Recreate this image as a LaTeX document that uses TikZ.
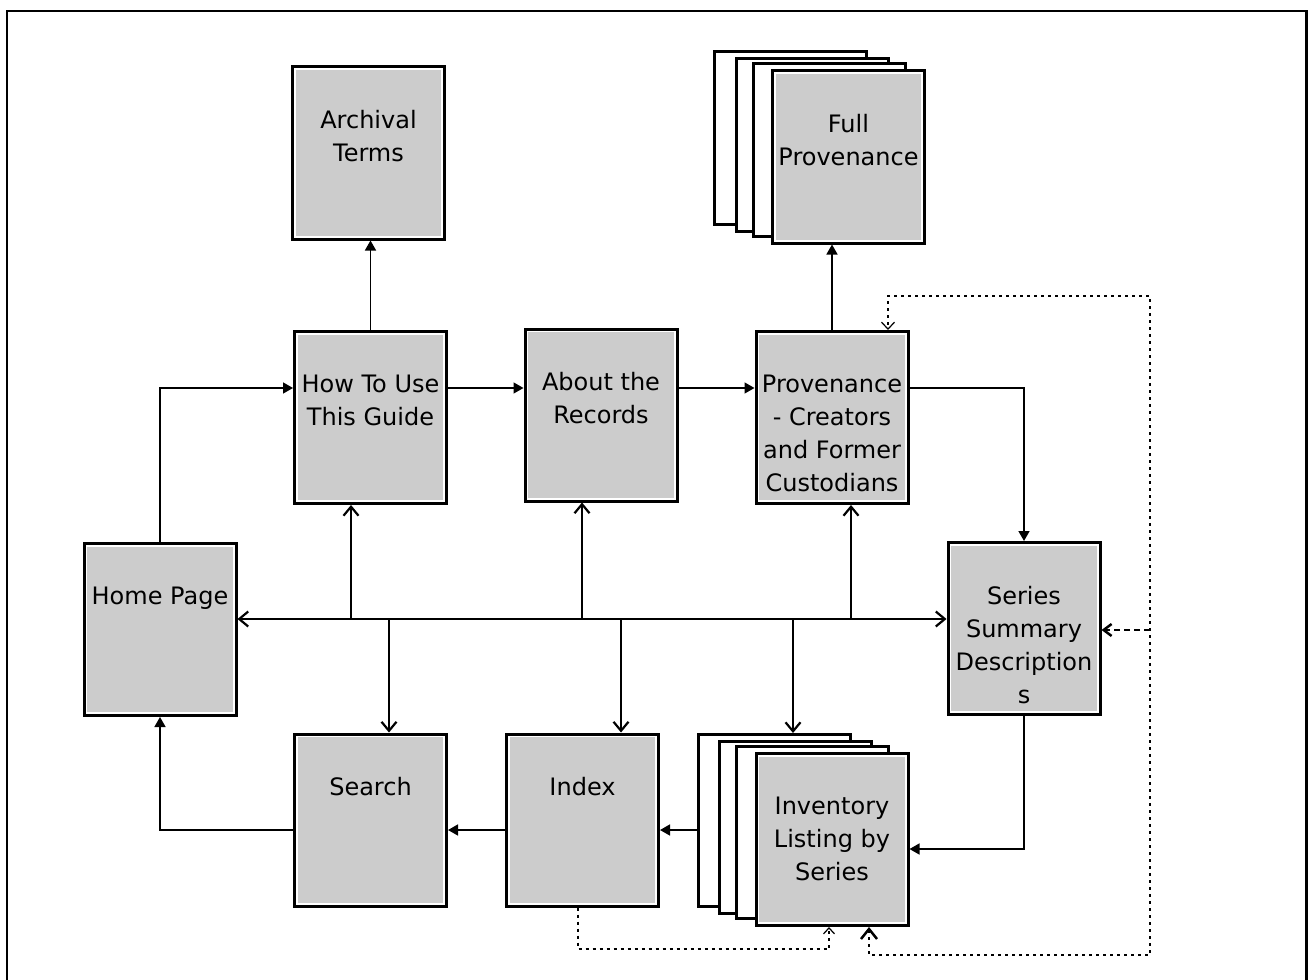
\documentclass[tikz,border=0pt]{standalone}
\usepackage{fontspec}
\setmainfont{DejaVu Sans}
\usetikzlibrary{arrows.meta,calc}
\definecolor{boxgray}{HTML}{CCCCCC}
\tikzset{
  pg/.style={rectangle, draw=black, fill=boxgray, line width=3pt,
    minimum width=152pt, minimum height=172pt, inner sep=0pt,
    path picture={\draw[white,line width=1.6pt]
      ([shift={(2.3pt,2.3pt)}]path picture bounding box.south west) rectangle
      ([shift={(-2.3pt,-2.3pt)}]path picture bounding box.north east);}},
  bk/.style={rectangle, draw=black, fill=white, line width=3pt,
    minimum width=152pt, minimum height=172pt, inner sep=0pt},
  lbl/.style={anchor=north, align=center, inner sep=0pt,
    font=\fontsize{24}{33}\selectfont},
  fa/.style={line width=1.5pt, -{Triangle[length=10pt,width=11pt]}},
  oa/.style={line width=2.2pt, -{Straight Barb[length=9pt,width=15pt]}},
  oab/.style={line width=2.2pt, {Straight Barb[length=9pt,width=15pt]}-{Straight Barb[length=9pt,width=15pt]}},
  dotl/.style={line width=1.6pt, dash pattern=on 3pt off 4pt},
  dshl/.style={line width=2.5pt, dash pattern=on 6pt off 4pt},
  frame/.style={line width=2.7pt}
}
\newcommand\pagebox[4]{%
  \node[pg] (#1) at (#2,#3) {};
  \node[lbl] (#1-t) at ([yshift=-45pt]#1.north) {#4};
}
\begin{document}
\begin{tikzpicture}[x=1pt,y=-1pt]
\useasboundingbox (0,0) rectangle (1308,979);
% outer frame
\coordinate (f1) at (7,1000);
\coordinate (f2) at (7,11);
\coordinate (f3) at (1306.5,11);
\coordinate (f4) at (1306.5,1000);
\draw[frame] (f1) -- (f2) -- (f3) -- (f4);

% stacked back pages
\node[bk] (fb1) at (790.5,138) {};
\node[bk] (fb2) at (812.5,145) {};
\node[bk] (fb3) at (829,150) {};
\node[bk] (ib1) at (774.5,820.5) {};
\node[bk] (ib2) at (795.5,827.5) {};
\node[bk] (ib3) at (812.5,832) {};

% pages
\pagebox{arch}{368.5}{153}{Archival\\Terms}
\pagebox{howto}{370.5}{417.5}{How To Use\\This Guide}
\pagebox{about}{601}{415}{About the\\Records}
\pagebox{prov}{832}{417.5}{Provenance\\- Creators\\and Former\\Custodians}
\pagebox{full}{848.5}{157}{Full\\Provenance}
\pagebox{home}{160}{629.5}{Home Page}
\pagebox{series}{1024}{628.5}{Series\\Summary\\Description\\s}
\pagebox{search}{370.5}{820}{Search}
\pagebox{index}{582.5}{820}{Index}
\pagebox{inv}{832}{839.5}{Inventory\\Listing by\\Series}

% solid filled-arrow connectors
\draw[fa] (home.north) |- (howto.west |- 0,388);
\draw[fa] (howto.north) -- (howto.north |- arch.south);
\draw[fa] (howto.east |- 0,388) -- (about.west |- 0,388);
\draw[fa] (about.east |- 0,388) -- (prov.west |- 0,388);
\draw[fa] (prov.north) -- (prov.north |- full.south);
\draw[fa] (prov.east |- 0,388) -| (series.north);
\draw[fa] (series.south) |- (inv.east |- 0,849);
\draw[fa] (search.west |- 0,830) -| (home.south);
\draw[fa] (index.west |- 0,830) -- (search.east |- 0,830);
\draw[fa] (ib1.west |- 0,830) -- (index.east |- 0,830);

% bus
\coordinate (bu1) at (351,619);
\coordinate (bu2) at (582,619);
\coordinate (bu3) at (851,619);
\coordinate (bd1) at (389,619);
\coordinate (bd2) at (621,619);
\coordinate (bd3) at (793,619);
\draw[oab] (home.east |- 0,619) -- (series.west |- 0,619);
\draw[oa] (bu1) -- (bu1 |- howto.south);
\draw[oa] (bu2) -- (bu2 |- about.south);
\draw[oa] (bu3) -- (bu3 |- prov.south);
\draw[oa] (bd1) -- (bd1 |- search.north);
\draw[oa] (bd2) -- (bd2 |- index.north);
\draw[oa] (bd3) -- (bd3 |- ib1.north);

% dotted links
\coordinate (d1) at (578,949);
\coordinate (d2) at (829,949);
\draw[dotl, -{Straight Barb[length=6pt,width=11pt,line width=1.2pt]}]
  (d1 |- index.south) -- (d1) -- (d2) -- (d2 |- inv.south);
\coordinate (e1) at (869,955);
\coordinate (e2) at (1150,955);
\coordinate (e3) at (1150,296);
\coordinate (e4) at (888,296);
\draw[dotl, {Straight Barb[length=10pt,width=16pt,line width=2.5pt]}-{Straight Barb[length=7pt,width=13pt,line width=1.2pt]}]
  (e1 |- inv.south) -- (e1) -- (e2) -- (e3) -- (e4) -- (e4 |- prov.north);
\coordinate (g1) at (1150,630);
\draw[dshl, -{Straight Barb[length=8pt,width=12pt,line width=2.5pt]}]
  (g1) -- (series.east |- g1);
\end{tikzpicture}
\end{document}
